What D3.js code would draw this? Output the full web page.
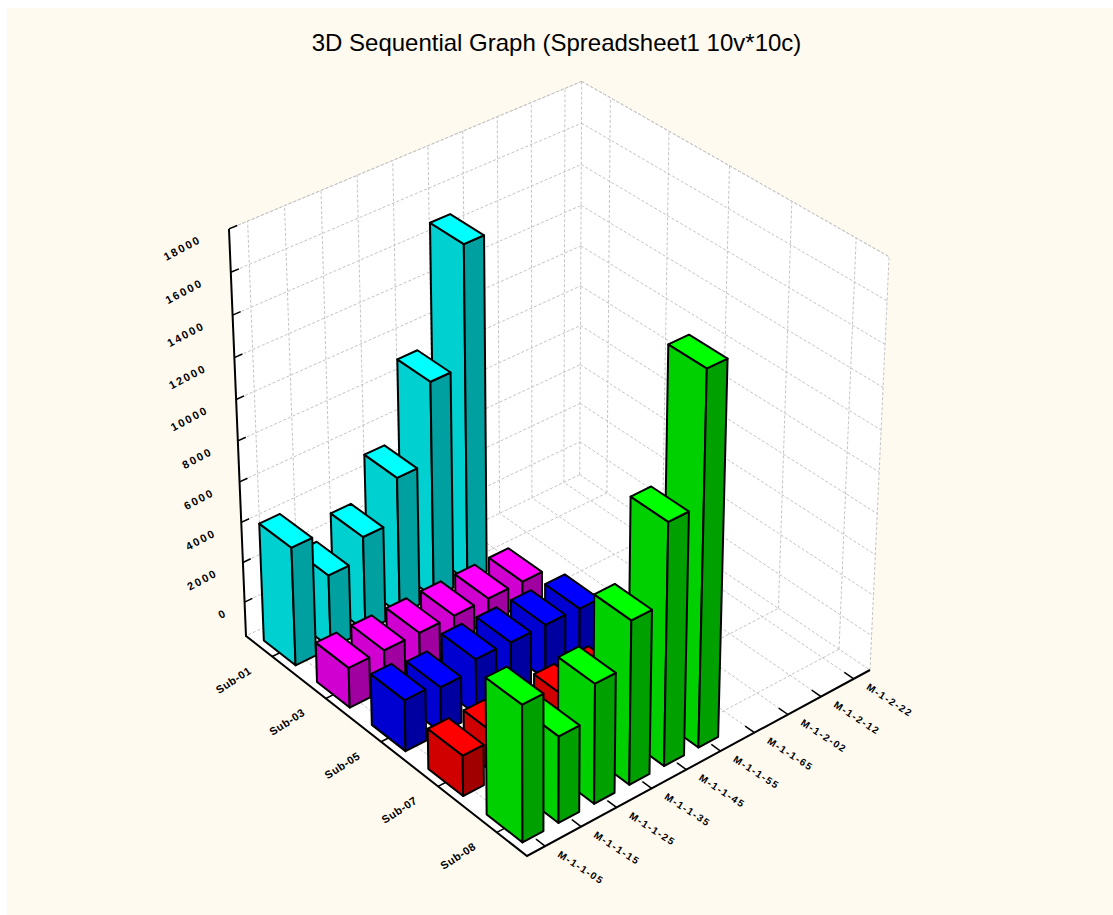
<!DOCTYPE html>
<html>
<head>
<meta charset="utf-8">
<script src="https://cdnjs.cloudflare.com/ajax/libs/d3/7.8.5/d3.min.js"></script>
<style>
  html, body { margin: 0; padding: 0; background: #fff; }
  svg { display: block; }
  text { font-family: "Liberation Sans", Arial, sans-serif; fill: #000; }
</style>
</head>
<body>
<svg id="chart" width="1113" height="915"></svg>
<script>
// Data
const columns = ["M-1-1-05", "M-1-1-15", "M-1-1-25", "M-1-1-35", "M-1-1-45", "M-1-1-55", "M-1-1-65", "M-1-2-02", "M-1-2-12", "M-1-2-22"];
const rows = ["Sub-08", "Sub-07", "Sub-05", "Sub-03", "Sub-01"];
const zTicks = [0, 2000, 4000, 6000, 8000, 10000, 12000, 14000, 16000, 18000];

const greenValues = [4900, 2480, 4100, 6230, 10000, 16200, null, null, null, null];
const redValues = [260, 260, 260, 260, 260, 260, null, null, null, null];
const blueValues = [800, 540, 1040, 1000, 1000, 940, null, null, null, null];
const magentaValues = [260, 260, 260, 260, 260, 260, null, null, null, null];
const cyanValues = [4160, 1940, 3020, 5140, 9060, 14900, null, null, null, null];

const rowValues = [greenValues, redValues, blueValues, magentaValues, cyanValues];
const rowColors = [
  ["#00ff00", "#00d000", "#00a000"],
  ["#ff0000", "#d00000", "#a00000"],
  ["#0000ff", "#0000d0", "#0000a0"],
  ["#ff00ff", "#d000d0", "#a000a0"],
  ["#00ffff", "#00d0d0", "#00a0a0"]
];

const svg = d3.select("#chart");

// Backdrop, the page shows a thin white strip on the top and left
svg.append("rect")
  .attr("x", 7).attr("y", 8)
  .attr("width", 1106).attr("height", 907)
  .attr("fill", "#fffaf0");

// Scales from data into unit box coordinates
const uScale = d3.scaleBand().domain(columns).range([0, 1]).paddingInner(0.42).paddingOuter(0.21);
const vScale = d3.scaleBand().domain(d3.range(rows.length)).range([0, 1]).paddingInner(0.4).paddingOuter(0.2);
const zScale = d3.scaleLinear().domain([-1730, 18000]).range([0, 1]);

// Perspective map of the unit box onto the page
const P0 = [527, 856], Pu = [870, 670], Pv = [246, 636], Pw = [526, 428];
const du = 0.06, dv = 0.08, dw = -0.0585;
function project(u, v, w) {
  const d = 1 + u * du + v * dv + w * dw;
  return [0, 1].map((i) =>
    (P0[i] + u * ((1 + du) * Pu[i] - P0[i]) + v * ((1 + dv) * Pv[i] - P0[i]) + w * ((1 + dw) * Pw[i] - P0[i])) / d
  );
}
const line = d3.line();
const closed = (pts) => line(pts) + "Z";

// Walls and floor
const walls = svg.append("g");
[
  [[0, 0, 0], [1, 0, 0], [1, 1, 0], [0, 1, 0]],
  [[0, 1, 0], [1, 1, 0], [1, 1, 1], [0, 1, 1]],
  [[1, 0, 0], [1, 1, 0], [1, 1, 1], [1, 0, 1]]
].forEach((q) => {
  walls.append("path")
    .attr("d", closed(q.map((p) => project(...p))))
    .attr("fill", "#fff").attr("stroke", "none");
});

// Grid lines
const grid = svg.append("g")
  .attr("fill", "none")
  .attr("stroke", "#c4c4c4")
  .attr("stroke-width", 1)
  .attr("stroke-dasharray", "3,2");
function gridLine(a, b) {
  grid.append("path").attr("d", line([project(...a), project(...b)]));
}
const uMid = (c) => uScale(c) + uScale.bandwidth() / 2;
const vMid = (i) => vScale(i) + vScale.bandwidth() / 2;
columns.forEach((c) => {
  gridLine([uMid(c), 0, 0], [uMid(c), 1, 0]);
  gridLine([uMid(c), 1, 0], [uMid(c), 1, 1]);
});
rows.forEach((r, i) => {
  gridLine([0, vMid(i), 0], [1, vMid(i), 0]);
  gridLine([1, vMid(i), 0], [1, vMid(i), 1]);
});
zTicks.forEach((t) => {
  gridLine([0, 1, zScale(t)], [1, 1, zScale(t)]);
  gridLine([1, 1, zScale(t)], [1, 0, zScale(t)]);
});
gridLine([1, 1, 0], [1, 1, 1]);
gridLine([1, 1, 0], [1, 0, 0]);
gridLine([1, 1, 0], [0, 1, 0]);
gridLine([1, 0, 0], [1, 0, 1]);
gridLine([1, 1, 1], [1, 0, 1]);
gridLine([1, 1, 1], [0, 1, 1]);

// Axes
const axes = svg.append("g").attr("fill", "none").attr("stroke", "#000").attr("stroke-width", 2);
axes.append("path").attr("d", line([project(0, 1, 1), project(0, 1, 0), project(0, 0, 0), project(1, 0, 0)]));
const ticks = svg.append("g").attr("fill", "none").attr("stroke", "#000").attr("stroke-width", 1.5);
zTicks.forEach((t) => {
  ticks.append("path").attr("d", line([project(0, 1, zScale(t)), project(0.022, 1, zScale(t))]));
});
columns.forEach((c) => {
  ticks.append("path").attr("d", line([project(uMid(c), 0, 0), project(uMid(c), 0.03, 0)]));
});
rows.forEach((r, i) => {
  ticks.append("path").attr("d", line([project(0, vMid(i), 0), project(0.03, vMid(i), 0)]));
});

// Bars, painted from the back corner towards the front
const bars = svg.append("g")
  .attr("stroke", "#000")
  .attr("stroke-width", 2)
  .attr("stroke-linejoin", "round");
for (let r = rows.length - 1; r >= 0; r--) {
  for (let c = columns.length - 1; c >= 0; c--) {
    const value = rowValues[r][c];
    if (value == null) continue;
    const u0 = uScale(columns[c]), u1 = u0 + uScale.bandwidth();
    const v0 = vScale(r), v1 = v0 + vScale.bandwidth();
    const top = zScale(value);
    const faces = [
      { pts: [[u0, v1, 0], [u0, v0, 0], [u0, v0, top], [u0, v1, top]], fill: rowColors[r][1] },
      { pts: [[u0, v0, 0], [u1, v0, 0], [u1, v0, top], [u0, v0, top]], fill: rowColors[r][2] },
      { pts: [[u0, v0, top], [u1, v0, top], [u1, v1, top], [u0, v1, top]], fill: rowColors[r][0] }
    ];
    faces.forEach((f) => {
      bars.append("path")
        .attr("d", closed(f.pts.map((p) => project(...p))))
        .attr("fill", f.fill);
    });
  }
}

// Title
svg.append("text")
  .attr("x", 556.5).attr("y", 51)
  .attr("text-anchor", "middle")
  .attr("font-size", 24)
  .text("3D Sequential Graph (Spreadsheet1 10v*10c)");

// Axis labels
zTicks.forEach((t) => {
  const [x, y] = project(0, 1, zScale(t));
  const n = String(t).length;
  svg.append("text")
    .attr("transform", `translate(${x - 14 - 2.6 * n},${y + 13}) rotate(-28)`)
    .attr("text-anchor", "end")
    .attr("font-size", 11)
    .attr("font-weight", "bold")
    .attr("letter-spacing", 2)
    .text(t);
});
rows.forEach((r, i) => {
  const [x, y] = project(0, vMid(i), 0);
  svg.append("text")
    .attr("transform", `translate(${x - 20},${y + 16}) rotate(-33)`)
    .attr("text-anchor", "end")
    .attr("font-size", 11)
    .attr("font-weight", "bold")
    .attr("letter-spacing", 0.5)
    .text(r);
});
columns.forEach((c) => {
  const [x, y] = project(uMid(c), 0, 0);
  svg.append("text")
    .attr("transform", `translate(${x + 12},${y + 10}) rotate(33)`)
    .attr("text-anchor", "start")
    .attr("font-size", 10)
    .attr("font-weight", "bold")
    .attr("letter-spacing", 1.5)
    .text(c);
});
</script>
</body>
</html>
